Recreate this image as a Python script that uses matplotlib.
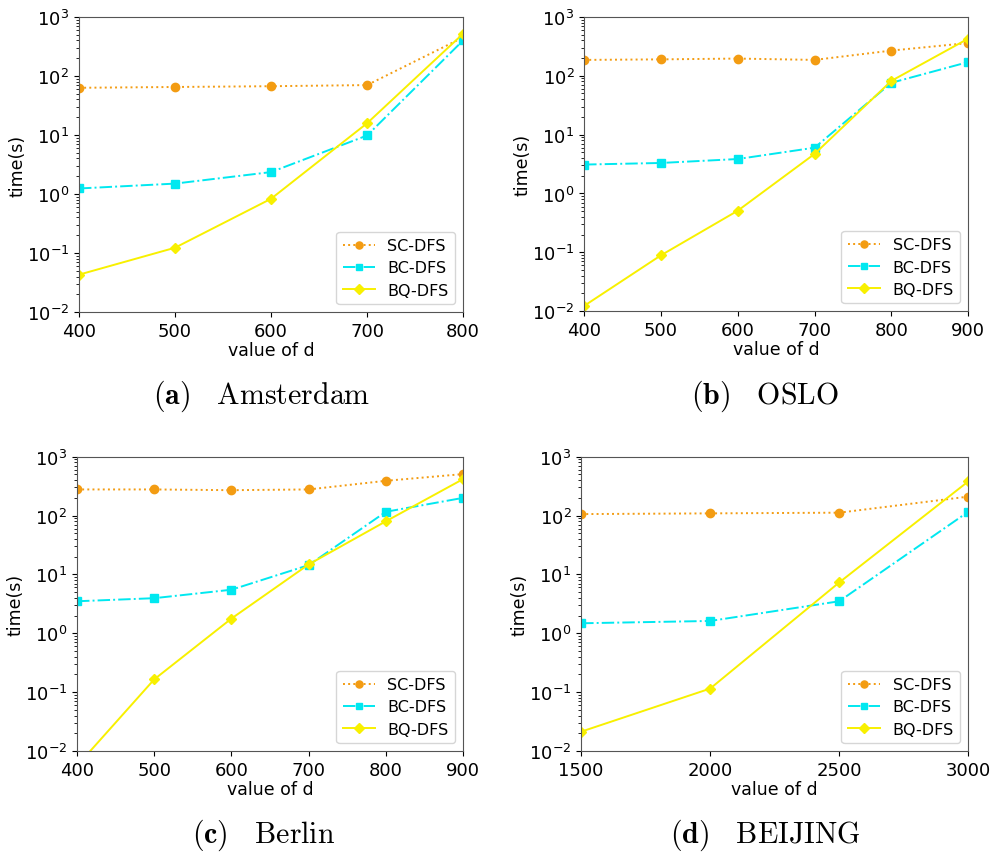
import matplotlib
matplotlib.use("Agg")
import matplotlib.pyplot as plt

plt.rcParams['mathtext.fontset'] = 'cm'

# panel (a) Amsterdam
d_ams = [400, 500, 600, 700, 800]
sc_ams = [63, 65, 67, 70, 450]
bc_ams = [1.24, 1.5, 2.35, 9.8, 400]
bq_ams = [0.043, 0.123, 0.83, 15.8, 520]

# panel (b) OSLO
d_oslo = [400, 500, 600, 700, 800, 900]
sc_oslo = [186, 190, 196, 186, 268, 360]
bc_oslo = [3.1, 3.3, 3.85, 6.0, 76, 171]
bq_oslo = [0.0123, 0.089, 0.51, 4.7, 82, 428]

# panel (c) Berlin
d_ber = [400, 500, 600, 700, 800, 900]
sc_ber = [278, 278, 270, 278, 390, 507]
bc_ber = [3.5, 3.95, 5.5, 14.4, 116, 200]
bq_ber = [0.0056, 0.165, 1.78, 14.8, 80, 417]

# panel (d) BEIJING
d_bj = [1500, 2000, 2500, 3000]
sc_bj = [106, 109, 112, 210]
bc_bj = [1.48, 1.62, 3.5, 116]
bq_bj = [0.0213, 0.115, 7.3, 380]

captions = [r'$\mathbf{(a)}$', r'$\mathbf{(b)}$', r'$\mathbf{(c)}$', r'$\mathbf{(d)}$']
cities = ['Amsterdam', 'OSLO', 'Berlin', 'BEIJING']

panels = [
    (d_ams, sc_ams, bc_ams, bq_ams),
    (d_oslo, sc_oslo, bc_oslo, bq_oslo),
    (d_ber, sc_ber, bc_ber, bq_ber),
    (d_bj, sc_bj, bc_bj, bq_bj),
]

# axes rectangles in figure fractions
rects = [
    [0.0798, 0.633, 0.388, 0.346],
    [0.590, 0.634, 0.388, 0.345],
    [0.0778, 0.1184, 0.390, 0.345],
    [0.587, 0.1184, 0.391, 0.345],
]
cap_pos = [(0.264, 0.535), (0.773, 0.535), (0.266, 0.021), (0.773, 0.021)]

fig = plt.figure(figsize=(9.9, 8.53), dpi=100)

for rect, (d, sc, bc, bq), cap, city, cp in zip(rects, panels, captions, cities, cap_pos):
    ax = fig.add_axes(rect)
    ax.plot(d, sc, linestyle=':', marker='o', color='#f39c12', markersize=6, lw=1.4, label='SC-DFS')
    ax.plot(d, bc, linestyle='-.', marker='s', color='#00e8f0', markersize=5.5, lw=1.4, label='BC-DFS')
    ax.plot(d, bq, linestyle='-', marker='D', color='#f8f000', markersize=5.5, lw=1.4, label='BQ-DFS')
    ax.set_yscale('log')
    ax.set_ylim(1e-2, 1e3)
    ax.set_xlim(d[0], d[-1])
    ax.set_xticks(d if len(d) > 4 else [1500, 2000, 2500, 3000])
    ax.tick_params(labelsize=13)
    ax.set_xlabel('value of d', fontsize=12.5, labelpad=1)
    ax.set_ylabel('time(s)', fontsize=12.5, labelpad=0)
    for s in ax.spines.values():
        s.set_color('#555555')
    ax.legend(loc='lower right', fontsize=11.5, markerscale=0.85, labelspacing=0.45)
    fig.text(cp[0], cp[1], cap + r'$\quad\mathrm{' + city + '}$', fontsize=21.5,
             ha='center', va='center')

fig.savefig('out.png', dpi=100)
